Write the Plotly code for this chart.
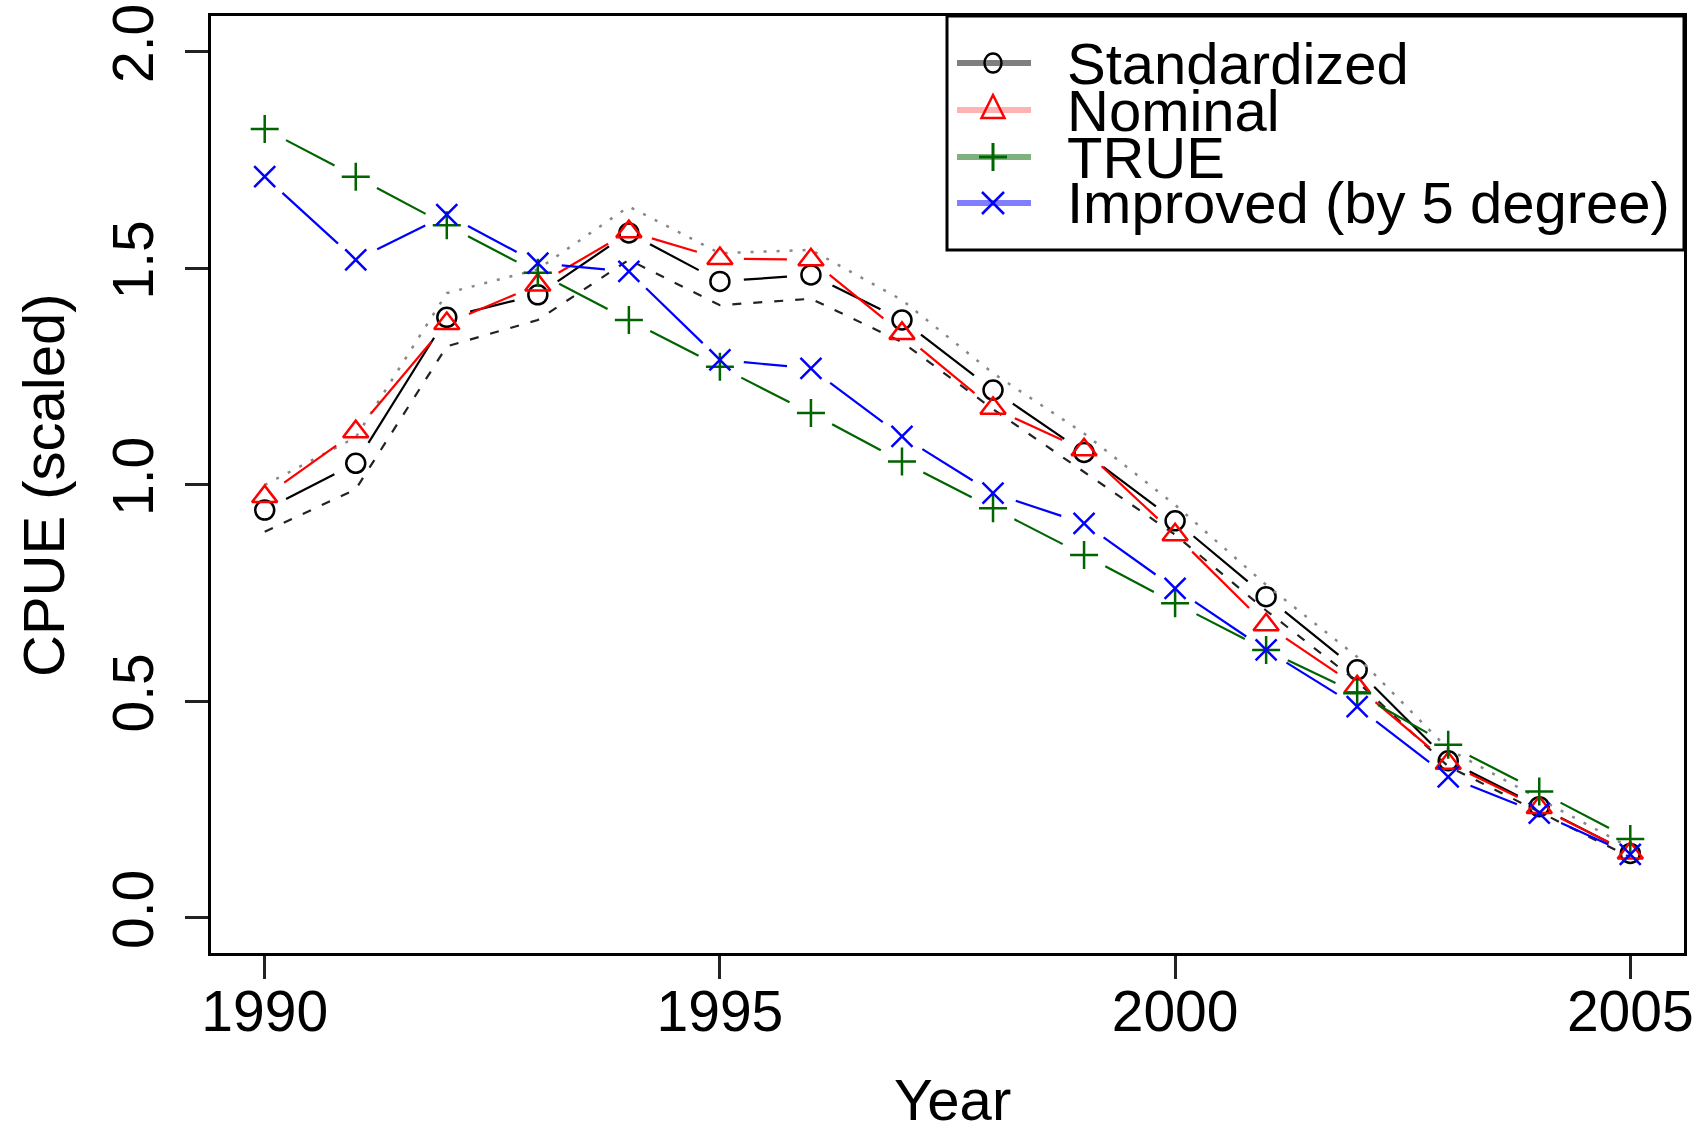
import plotly.graph_objects as go

# ---------------- data ----------------
years = list(range(1990, 2006))
standardized = [0.942, 1.050, 1.387, 1.439, 1.582, 1.470, 1.485, 1.381, 1.219, 1.075,
                0.917, 0.742, 0.573, 0.363, 0.257, 0.149]
std_lower = [0.892, 0.990, 1.320, 1.381, 1.520, 1.415, 1.430, 1.330, 1.175, 1.030,
             0.885, 0.710, 0.546, 0.350, 0.245, 0.140]
std_upper = [1.000, 1.110, 1.443, 1.498, 1.643, 1.535, 1.543, 1.427, 1.258, 1.119,
             0.954, 0.769, 0.603, 0.390, 0.275, 0.162]
nominal = [0.973, 1.123, 1.373, 1.462, 1.585, 1.523, 1.520, 1.350, 1.177, 1.081,
           0.885, 0.677, 0.534, 0.357, 0.255, 0.150]
true_cpue = [1.822, 1.712, 1.600, 1.490, 1.381, 1.273, 1.166, 1.054, 0.946, 0.838,
             0.727, 0.619, 0.519, 0.400, 0.292, 0.182]
improved = [1.712, 1.520, 1.624, 1.512, 1.493, 1.289, 1.269, 1.112, 0.981, 0.911,
            0.761, 0.619, 0.488, 0.326, 0.242, 0.147]

series_names = ["Standardized", "Nominal", "TRUE", "Improved (by 5 degree)"]
x_tick_vals = [1990, 1995, 2000, 2005]
y_tick_vals = [0.0, 0.5, 1.0, 1.5, 2.0]
y_tick_text = ["0.0", "0.5", "1.0", "1.5", "2.0"]

# ---------------- layout constants ----------------
W, H = 1700, 1133
M = dict(l=211, r=16, t=16, b=180)
PLOT_W = W - M["l"] - M["r"]
PLOT_H = H - M["t"] - M["b"]
X_RANGE = [1989.41, 2005.59]
Y_RANGE = [-0.081, 2.083]
FONT = "Liberation Sans, Arial, sans-serif"
GAP = 24  # px gap between line segment ends and the points (R type="b")


def px_x(p):
    return (p - M["l"]) / PLOT_W


def px_y(p):
    return (H - M["b"] - p) / PLOT_H


def gapped(xs, ys, gap=GAP):
    sx = PLOT_W / (X_RANGE[1] - X_RANGE[0])
    sy = PLOT_H / (Y_RANGE[1] - Y_RANGE[0])
    gx, gy = [], []
    for i in range(len(xs) - 1):
        ddx = xs[i + 1] - xs[i]
        ddy = ys[i + 1] - ys[i]
        L = ((ddx * sx) ** 2 + (ddy * sy) ** 2) ** 0.5
        if L <= 2 * gap:
            continue
        t = gap / L
        gx += [xs[i] + t * ddx, xs[i + 1] - t * ddx, None]
        gy += [ys[i] + t * ddy, ys[i + 1] - t * ddy, None]
    return gx, gy


BLACK, RED, GREEN, BLUE = "#000000", "#FF0000", "#006400", "#0000FF"

fig = go.Figure()


def add_b_series(ys, color, symbol, size, lw=2.2):
    gx, gy = gapped(years, ys)
    fig.add_trace(go.Scatter(x=gx, y=gy, mode="lines",
                             line=dict(color=color, width=lw),
                             showlegend=False, hoverinfo="skip"))
    fig.add_trace(go.Scatter(x=years, y=ys, mode="markers",
                             marker=dict(symbol=symbol, size=size, color=color,
                                         line=dict(color=color, width=2.5)),
                             showlegend=False))


add_b_series(standardized, BLACK, "circle-open", 19)
fig.add_trace(go.Scatter(x=years, y=std_lower, mode="lines",
                         line=dict(color="#222222", width=2.2, dash="9px,12px"),
                         showlegend=False, hoverinfo="skip"))
fig.add_trace(go.Scatter(x=years, y=std_upper, mode="lines",
                         line=dict(color="#888888", width=2.5, dash="3px,10px"),
                         showlegend=False, hoverinfo="skip"))
add_b_series(nominal, RED, "triangle-up-open", 22)
add_b_series(true_cpue, GREEN, "cross-thin-open", 20)
add_b_series(improved, BLUE, "x-thin-open", 21)

# ---------------- hand-drawn legend (R style, tight line spacing) ----------------
shapes = []
annotations = []
LEG_X0, LEG_Y0, LEG_Y1 = 947, 16, 250
shapes.append(dict(type="rect", xref="paper", yref="paper",
                   x0=px_x(LEG_X0), x1=1.0, y0=px_y(LEG_Y1), y1=px_y(LEG_Y0),
                   line=dict(color="black", width=3), fillcolor="white", layer="above"))
row_y = [63, 110, 157, 203]
line_x0, line_x1, mark_x, text_x = 957, 1031, 993, 1065
leg_line_cols = ["rgba(0,0,0,0.5)", "rgba(255,0,0,0.3)", "rgba(0,100,0,0.5)", "rgba(0,0,255,0.5)"]
for yy, col in zip(row_y, leg_line_cols):
    shapes.append(dict(type="line", xref="paper", yref="paper",
                       x0=px_x(line_x0), x1=px_x(line_x1), y0=px_y(yy), y1=px_y(yy),
                       line=dict(color=col, width=6), layer="above"))
# circle
r = 8.5
shapes.append(dict(type="circle", xref="paper", yref="paper",
                   x0=px_x(mark_x - r), x1=px_x(mark_x + r),
                   y0=px_y(row_y[0] + r + 1), y1=px_y(row_y[0] - r - 1),
                   line=dict(color=BLACK, width=2.5), layer="above"))
# triangle
ty = row_y[1]
tri = "M {} {} L {} {} L {} {} Z".format(
    px_x(mark_x - 11.5), px_y(ty + 8), px_x(mark_x + 11.5), px_y(ty + 8),
    px_x(mark_x), px_y(ty - 15))
shapes.append(dict(type="path", xref="paper", yref="paper", path=tri,
                   line=dict(color=RED, width=2.5), layer="above"))
# cross
cy = row_y[2]
shapes.append(dict(type="line", xref="paper", yref="paper",
                   x0=px_x(mark_x), x1=px_x(mark_x), y0=px_y(cy - 14), y1=px_y(cy + 14),
                   line=dict(color=GREEN, width=3), layer="above"))
shapes.append(dict(type="line", xref="paper", yref="paper",
                   x0=px_x(mark_x - 14), x1=px_x(mark_x + 14), y0=px_y(cy), y1=px_y(cy),
                   line=dict(color=GREEN, width=3), layer="above"))
# x
xy = row_y[3]
for s in (1, -1):
    shapes.append(dict(type="line", xref="paper", yref="paper",
                       x0=px_x(mark_x - 11), x1=px_x(mark_x + 11),
                       y0=px_y(xy - 11 * s), y1=px_y(xy + 11 * s),
                       line=dict(color=BLUE, width=2.5), layer="above"))
for yy, name in zip(row_y, series_names):
    annotations.append(dict(text=name, xref="paper", yref="paper",
                            x=px_x(text_x), y=px_y(yy), xanchor="left", yanchor="middle",
                            showarrow=False, font=dict(family=FONT, size=58, color="black")))

# axis titles
annotations.append(dict(text="Year", xref="paper", yref="paper", x=px_x(952), y=px_y(1099),
                        xanchor="center", yanchor="middle", showarrow=False,
                        font=dict(family=FONT, size=58, color="black")))
annotations.append(dict(text="CPUE (scaled)", xref="paper", yref="paper", x=px_x(43), y=px_y(485),
                        xanchor="center", yanchor="middle", showarrow=False, textangle=-90,
                        font=dict(family=FONT, size=58, color="black")))

fig.update_layout(
    width=W, height=H, autosize=False,
    margin=dict(l=M["l"], r=M["r"], t=M["t"], b=M["b"], pad=0),
    paper_bgcolor="white", plot_bgcolor="white",
    showlegend=False,
    shapes=shapes, annotations=annotations,
    font=dict(family=FONT, color="black"),
)
fig.update_xaxes(range=X_RANGE, tickmode="array", tickvals=x_tick_vals,
                 ticks="outside", ticklen=23, tickwidth=3, tickcolor="#222222",
                 showline=True, linecolor="black", linewidth=3, mirror=True,
                 showgrid=False, zeroline=False,
                 tickfont=dict(family=FONT, size=57, color="black"),
                 ticklabelstandoff=-16, automargin=False)
fig.update_yaxes(range=Y_RANGE, tickmode="array", tickvals=y_tick_vals, ticktext=y_tick_text,
                 ticks="outside", ticklen=23, tickwidth=3, tickcolor="#222222",
                 showline=True, linecolor="black", linewidth=3, mirror=True,
                 showgrid=False, zeroline=False, tickangle=-90,
                 tickfont=dict(family=FONT, size=57, color="black"),
                 ticklabelstandoff=9, automargin=False)

fig.write_html("out.html")
